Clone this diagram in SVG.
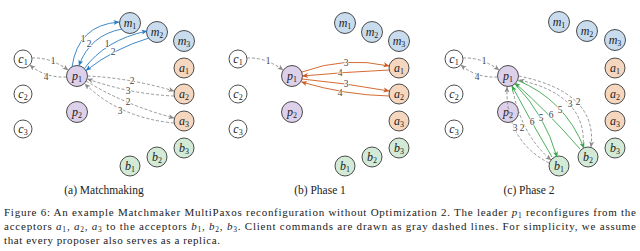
<svg xmlns="http://www.w3.org/2000/svg" width="640" height="251" viewBox="0 0 640 251">
<style>
circle{stroke:#222;stroke-width:0.8}
.c{fill:#fff}.p{fill:#ddd0ea}.m{fill:#c9dcee}.a{fill:#f5d6bf}.b{fill:#d2ead6}
.lbl{font-family:"Liberation Serif","DejaVu Serif",serif;font-style:italic;font-size:12px;fill:#222;text-anchor:middle}
.sub{font-size:8px;font-style:normal}
.e{fill:none;stroke-width:0.9}
.g{stroke:#8a8a8a;stroke-dasharray:3 2}
.bl{stroke:#2a7cc0}.o{stroke:#cf5a1c}.gr{stroke:#3aa64c}
.el{font-family:"Liberation Serif","DejaVu Serif",serif;font-size:9.5px;fill:#444;text-anchor:middle;paint-order:stroke;stroke:#fff;stroke-width:1.5}
.cap{font-family:"Liberation Serif","DejaVu Serif",serif;font-size:11.5px;fill:#222;text-anchor:middle}
.ft{font-family:"Liberation Serif","DejaVu Serif",serif;font-size:11px;fill:#222}
.fs{font-size:7.5px}
</style>
<defs>
<marker id="ag" viewBox="0 0 6 6" refX="5.5" refY="3" markerWidth="6" markerHeight="6" markerUnits="userSpaceOnUse" orient="auto"><path d="M0,0.5 L6,3 L0,5.5 L1.5,3z" fill="#8a8a8a"/></marker>
<marker id="ab" viewBox="0 0 6 6" refX="5.5" refY="3" markerWidth="6" markerHeight="6" markerUnits="userSpaceOnUse" orient="auto"><path d="M0,0.5 L6,3 L0,5.5 L1.5,3z" fill="#2a7cc0"/></marker>
<marker id="ao" viewBox="0 0 6 6" refX="5.5" refY="3" markerWidth="6" markerHeight="6" markerUnits="userSpaceOnUse" orient="auto"><path d="M0,0.5 L6,3 L0,5.5 L1.5,3z" fill="#cf5a1c"/></marker>
<marker id="an" viewBox="0 0 6 6" refX="5.5" refY="3" markerWidth="6" markerHeight="6" markerUnits="userSpaceOnUse" orient="auto"><path d="M0,0.5 L6,3 L0,5.5 L1.5,3z" fill="#3aa64c"/></marker>
</defs>

<!-- Panel (a) nodes -->
<g id="panelA">
<g id="a-c1"><circle class="c" cx="23" cy="59" r="9"/><text class="lbl" x="23" y="62.5"><tspan>c</tspan><tspan class="sub" dy="2">1</tspan></text></g>
<g id="a-c2"><circle class="c" cx="23" cy="94" r="9"/><text class="lbl" x="23" y="97.5"><tspan>c</tspan><tspan class="sub" dy="2">2</tspan></text></g>
<g id="a-c3"><circle class="c" cx="23" cy="129" r="9"/><text class="lbl" x="23" y="132.5"><tspan>c</tspan><tspan class="sub" dy="2">3</tspan></text></g>
<g id="a-p1"><circle class="p" cx="77" cy="76" r="10.5"/><text class="lbl" x="77" y="79.5"><tspan>p</tspan><tspan class="sub" dy="2">1</tspan></text></g>
<g id="a-p2"><circle class="p" cx="77" cy="112" r="10.5"/><text class="lbl" x="77" y="115.5"><tspan>p</tspan><tspan class="sub" dy="2">2</tspan></text></g>
<g id="a-m1"><circle class="m" cx="130" cy="23" r="10.5"/><text class="lbl" x="130" y="26.5"><tspan>m</tspan><tspan class="sub" dy="2">1</tspan></text></g>
<g id="a-m2"><circle class="m" cx="157" cy="32" r="10.5"/><text class="lbl" x="157" y="35.5"><tspan>m</tspan><tspan class="sub" dy="2">2</tspan></text></g>
<g id="a-m3"><circle class="m" cx="184" cy="41" r="10.5"/><text class="lbl" x="184" y="44.5"><tspan>m</tspan><tspan class="sub" dy="2">3</tspan></text></g>
<g id="a-a1"><circle class="a" cx="184" cy="68" r="10"/><text class="lbl" x="184" y="71.5"><tspan>a</tspan><tspan class="sub" dy="2">1</tspan></text></g>
<g id="a-a2"><circle class="a" cx="184" cy="94" r="10"/><text class="lbl" x="184" y="97.5"><tspan>a</tspan><tspan class="sub" dy="2">2</tspan></text></g>
<g id="a-a3"><circle class="a" cx="184" cy="121" r="10"/><text class="lbl" x="184" y="124.5"><tspan>a</tspan><tspan class="sub" dy="2">3</tspan></text></g>
<g id="a-b3"><circle class="b" cx="184" cy="148" r="10"/><text class="lbl" x="184" y="151.5"><tspan>b</tspan><tspan class="sub" dy="2">3</tspan></text></g>
<g id="a-b2"><circle class="b" cx="157" cy="157" r="10"/><text class="lbl" x="157" y="160.5"><tspan>b</tspan><tspan class="sub" dy="2">2</tspan></text></g>
<g id="a-b1"><circle class="b" cx="130" cy="166" r="10"/><text class="lbl" x="130" y="169.5"><tspan>b</tspan><tspan class="sub" dy="2">1</tspan></text></g>
<text class="cap" x="104" y="194">(a) Matchmaking</text>
</g>

<!-- Panel (b) nodes -->
<g id="panelB" transform="translate(215,0)">
<g id="b-c1"><circle class="c" cx="23" cy="59" r="9"/><text class="lbl" x="23" y="62.5"><tspan>c</tspan><tspan class="sub" dy="2">1</tspan></text></g>
<g id="b-c2"><circle class="c" cx="23" cy="94" r="9"/><text class="lbl" x="23" y="97.5"><tspan>c</tspan><tspan class="sub" dy="2">2</tspan></text></g>
<g id="b-c3"><circle class="c" cx="23" cy="129" r="9"/><text class="lbl" x="23" y="132.5"><tspan>c</tspan><tspan class="sub" dy="2">3</tspan></text></g>
<g id="b-p1"><circle class="p" cx="77" cy="76" r="10.5"/><text class="lbl" x="77" y="79.5"><tspan>p</tspan><tspan class="sub" dy="2">1</tspan></text></g>
<g id="b-p2"><circle class="p" cx="77" cy="112" r="10.5"/><text class="lbl" x="77" y="115.5"><tspan>p</tspan><tspan class="sub" dy="2">2</tspan></text></g>
<g id="b-m1"><circle class="m" cx="130" cy="23" r="10.5"/><text class="lbl" x="130" y="26.5"><tspan>m</tspan><tspan class="sub" dy="2">1</tspan></text></g>
<g id="b-m2"><circle class="m" cx="157" cy="32" r="10.5"/><text class="lbl" x="157" y="35.5"><tspan>m</tspan><tspan class="sub" dy="2">2</tspan></text></g>
<g id="b-m3"><circle class="m" cx="184" cy="41" r="10.5"/><text class="lbl" x="184" y="44.5"><tspan>m</tspan><tspan class="sub" dy="2">3</tspan></text></g>
<g id="b-a1"><circle class="a" cx="184" cy="68" r="10"/><text class="lbl" x="184" y="71.5"><tspan>a</tspan><tspan class="sub" dy="2">1</tspan></text></g>
<g id="b-a2"><circle class="a" cx="184" cy="94" r="10"/><text class="lbl" x="184" y="97.5"><tspan>a</tspan><tspan class="sub" dy="2">2</tspan></text></g>
<g id="b-a3"><circle class="a" cx="184" cy="121" r="10"/><text class="lbl" x="184" y="124.5"><tspan>a</tspan><tspan class="sub" dy="2">3</tspan></text></g>
<g id="b-b3"><circle class="b" cx="184" cy="148" r="10"/><text class="lbl" x="184" y="151.5"><tspan>b</tspan><tspan class="sub" dy="2">3</tspan></text></g>
<g id="b-b2"><circle class="b" cx="157" cy="157" r="10"/><text class="lbl" x="157" y="160.5"><tspan>b</tspan><tspan class="sub" dy="2">2</tspan></text></g>
<g id="b-b1"><circle class="b" cx="130" cy="166" r="10"/><text class="lbl" x="130" y="169.5"><tspan>b</tspan><tspan class="sub" dy="2">1</tspan></text></g>
<text class="cap" x="105" y="194">(b) Phase 1</text>
</g>

<!-- Panel (c) nodes -->
<g id="panelC" transform="translate(431,0)">
<g id="c-c1"><circle class="c" cx="23" cy="59" r="9"/><text class="lbl" x="23" y="62.5"><tspan>c</tspan><tspan class="sub" dy="2">1</tspan></text></g>
<g id="c-c2"><circle class="c" cx="23" cy="94" r="9"/><text class="lbl" x="23" y="97.5"><tspan>c</tspan><tspan class="sub" dy="2">2</tspan></text></g>
<g id="c-c3"><circle class="c" cx="23" cy="129" r="9"/><text class="lbl" x="23" y="132.5"><tspan>c</tspan><tspan class="sub" dy="2">3</tspan></text></g>
<g id="c-p1"><circle class="p" cx="77" cy="76" r="10.5"/><text class="lbl" x="77" y="79.5"><tspan>p</tspan><tspan class="sub" dy="2">1</tspan></text></g>
<g id="c-p2"><circle class="p" cx="77" cy="112" r="10.5"/><text class="lbl" x="77" y="115.5"><tspan>p</tspan><tspan class="sub" dy="2">2</tspan></text></g>
<g id="c-m1"><circle class="m" cx="128" cy="22" r="10.5"/><text class="lbl" x="128" y="25.5"><tspan>m</tspan><tspan class="sub" dy="2">1</tspan></text></g>
<g id="c-m2"><circle class="m" cx="156" cy="31" r="10.5"/><text class="lbl" x="156" y="34.5"><tspan>m</tspan><tspan class="sub" dy="2">2</tspan></text></g>
<g id="c-m3"><circle class="m" cx="184" cy="40" r="10.5"/><text class="lbl" x="184" y="43.5"><tspan>m</tspan><tspan class="sub" dy="2">3</tspan></text></g>
<g id="c-a1"><circle class="a" cx="184" cy="68" r="10"/><text class="lbl" x="184" y="71.5"><tspan>a</tspan><tspan class="sub" dy="2">1</tspan></text></g>
<g id="c-a2"><circle class="a" cx="184" cy="94" r="10"/><text class="lbl" x="184" y="97.5"><tspan>a</tspan><tspan class="sub" dy="2">2</tspan></text></g>
<g id="c-a3"><circle class="a" cx="184" cy="121" r="10"/><text class="lbl" x="184" y="124.5"><tspan>a</tspan><tspan class="sub" dy="2">3</tspan></text></g>
<g id="c-b3"><circle class="b" cx="184" cy="148" r="10"/><text class="lbl" x="184" y="151.5"><tspan>b</tspan><tspan class="sub" dy="2">3</tspan></text></g>
<g id="c-b2"><circle class="b" cx="157" cy="157" r="10"/><text class="lbl" x="157" y="160.5"><tspan>b</tspan><tspan class="sub" dy="2">2</tspan></text></g>
<g id="c-b1"><circle class="b" cx="128" cy="166" r="10"/><text class="lbl" x="128" y="169.5"><tspan>b</tspan><tspan class="sub" dy="2">1</tspan></text></g>
<text class="cap" x="98" y="194">(c) Phase 2</text>
</g>

<!-- Connectors -->
<g id="connectors">
<!-- panel a -->
<path class="e g" d="M32,58 Q50,57 68,70" marker-end="url(#ag)"/>
<path class="e g" d="M66.5,77 Q45,78 30,65" marker-end="url(#ag)"/>
<path class="e bl" d="M72,67 Q78,25 119,22" marker-end="url(#ab)"/>
<path class="e bl" d="M122,29 Q90,35 79,65.5" marker-end="url(#ab)"/>
<path class="e bl" d="M84,69 Q105,40 147,31" marker-end="url(#ab)"/>
<path class="e bl" d="M149,38 Q115,48 86,70.5" marker-end="url(#ab)"/>
<path class="e g" d="M87.5,76 Q130,78 174,91" marker-end="url(#ag)"/>
<path class="e g" d="M174,96 Q130,94 87.5,79" marker-end="url(#ag)"/>
<path class="e g" d="M86,81 Q125,105 174,118" marker-end="url(#ag)"/>
<path class="e g" d="M174,123 Q120,118 85,84" marker-end="url(#ag)"/>
<!-- panel b -->
<path class="e g" d="M247,58 Q265,57 283,70" marker-end="url(#ag)"/>
<path class="e o" d="M302,72 Q345,56 389,66" marker-end="url(#ao)"/>
<path class="e o" d="M389,70 Q345,72 302.5,76" marker-end="url(#ao)"/>
<path class="e o" d="M302,79 Q345,83 389,91" marker-end="url(#ao)"/>
<path class="e o" d="M389,96 Q345,95 301.5,82" marker-end="url(#ao)"/>
<!-- panel c -->
<path class="e g" d="M463,58 Q481,57 499,70" marker-end="url(#ag)"/>
<path class="e g" d="M497.5,77 Q476,78 461,65" marker-end="url(#ag)"/>
<path class="e g" d="M512,86 Q521,135 551,160" marker-end="url(#ag)"/>
<path class="e g" d="M549,163 Q505,140 507,87" marker-end="url(#ag)"/>
<path class="e g" d="M518.5,76 Q598,92 591,147" marker-end="url(#ag)"/>
<path class="e g" d="M583,148 Q588,95 519,80" marker-end="url(#ag)"/>
<path class="e gr" d="M515,84 Q545,115 557,157" marker-end="url(#an)"/>
<path class="e gr" d="M552,157 Q530,120 512,86" marker-end="url(#an)"/>
<path class="e gr" d="M517,80 Q565,100 584,148" marker-end="url(#an)"/>
<path class="e gr" d="M580,149 Q548,112 515,83" marker-end="url(#an)"/>
<!-- edge labels -->
<text class="el" x="53" y="64">1</text>
<text class="el" x="46" y="80">4</text>
<text class="el" x="83" y="42">1</text>
<text class="el" x="89" y="47">2</text>
<text class="el" x="107" y="47">1</text>
<text class="el" x="113" y="55">2</text>
<text class="el" x="132" y="84">2</text>
<text class="el" x="128" y="94">3</text>
<text class="el" x="128" y="105">2</text>
<text class="el" x="120" y="114">3</text>
<text class="el" x="268" y="64">1</text>
<text class="el" x="346" y="66">3</text>
<text class="el" x="340" y="76">4</text>
<text class="el" x="346" y="87">3</text>
<text class="el" x="340" y="96">4</text>
<text class="el" x="484" y="64">1</text>
<text class="el" x="477" y="80">4</text>
<text class="el" x="515" y="131">3</text>
<text class="el" x="522" y="131">2</text>
<text class="el" x="532" y="125">6</text>
<text class="el" x="541" y="121">5</text>
<text class="el" x="551" y="118">6</text>
<text class="el" x="560" y="113">5</text>
<text class="el" x="570" y="107">3</text>
<text class="el" x="578" y="105">2</text>
</g>

<!-- Figure caption -->
<text class="ft" x="4" y="216" textLength="632" lengthAdjust="spacing">Figure 6: An example Matchmaker MultiPaxos reconfiguration without Optimization 2. The leader <tspan font-style="italic">p</tspan><tspan class="fs" dy="1.5">1</tspan><tspan dy="-1.5"> reconfigures from the</tspan></text>
<text class="ft" x="4" y="230" textLength="632" lengthAdjust="spacing">acceptors <tspan font-style="italic">a</tspan><tspan class="fs" dy="1.5">1</tspan><tspan dy="-1.5">, </tspan><tspan font-style="italic">a</tspan><tspan class="fs" dy="1.5">2</tspan><tspan dy="-1.5">, </tspan><tspan font-style="italic">a</tspan><tspan class="fs" dy="1.5">3</tspan><tspan dy="-1.5"> to the acceptors </tspan><tspan font-style="italic">b</tspan><tspan class="fs" dy="1.5">1</tspan><tspan dy="-1.5">, </tspan><tspan font-style="italic">b</tspan><tspan class="fs" dy="1.5">2</tspan><tspan dy="-1.5">, </tspan><tspan font-style="italic">b</tspan><tspan class="fs" dy="1.5">3</tspan><tspan dy="-1.5">. Client commands are drawn as gray dashed lines. For simplicity, we assume</tspan></text>
<text class="ft" x="4" y="244" textLength="216" lengthAdjust="spacing">that every proposer also serves as a replica.</text>
</svg>
